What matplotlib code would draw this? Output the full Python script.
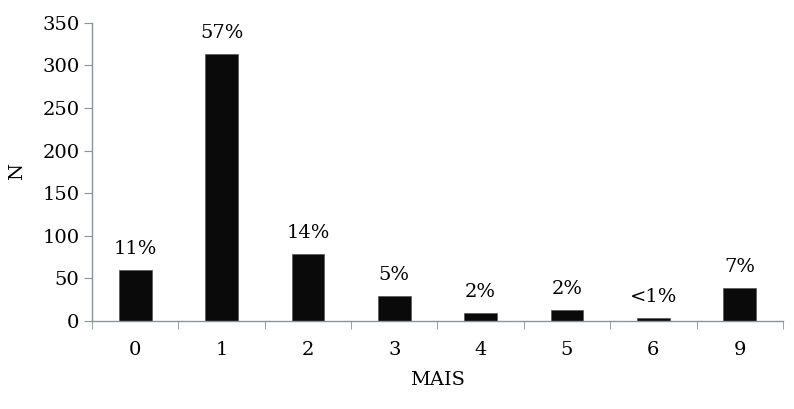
import numpy as np
import matplotlib.pyplot as plt

# MAIS categories and counts
mais = ["0", "1", "2", "3", "4", "5", "6", "9"]
counts = [60, 314, 79, 30, 9, 13, 4, 39]
pct_labels = ["11%", "57%", "14%", "5%", "2%", "2%", "<1%", "7%"]

fontsize = 14
plt.rcParams['font.family'] = ['DejaVu Serif']

fig = plt.figure(figsize=(7.94, 4.09), dpi=100)
ax = fig.add_axes([0.116, 0.215, 0.870, 0.729])

x = np.arange(len(mais))
ax.bar(x, counts, width=0.38, color="#0a0a0a", edgecolor="#555555", linewidth=0.5)

for xi, c, lab in zip(x, counts, pct_labels):
    ax.text(xi, c + 14, lab, ha='center', va='bottom', fontsize=fontsize)

ax.set_xlim(-0.5, len(mais) - 0.5)
ax.set_ylim(0, 350)
ax.set_yticks(np.arange(0, 351, 50))
ax.set_xticks(x)
ax.set_xticklabels(mais)
ax.set_xticks(np.arange(-0.5, len(mais), 1.0), minor=True)

axis_col = "#8a9396"
for s in ["top", "right"]:
    ax.spines[s].set_visible(False)
for s in ["left", "bottom"]:
    ax.spines[s].set_color(axis_col)
    ax.spines[s].set_linewidth(1.0)

ax.tick_params(axis='x', which='major', length=0, pad=14, labelsize=fontsize)
ax.tick_params(axis='x', which='minor', length=6, color=axis_col, direction='out')
ax.tick_params(axis='y', which='major', length=6, color=axis_col, direction='out',
               pad=3, labelsize=fontsize)

ax.set_xlabel("MAIS", fontsize=fontsize, labelpad=9)
ax.set_ylabel("N", fontsize=fontsize, labelpad=12)

plt.savefig("out.png", dpi=100)
